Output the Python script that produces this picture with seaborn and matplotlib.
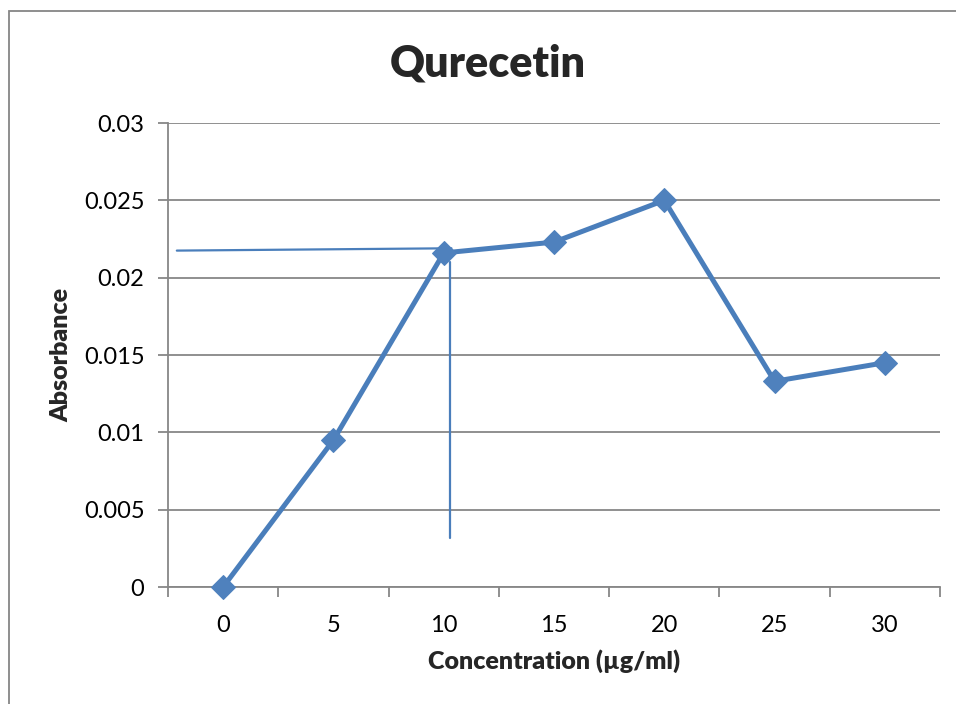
import matplotlib
matplotlib.use("Agg")
import matplotlib.pyplot as plt
import seaborn as sns
import numpy as np
import pandas as pd
from matplotlib.patches import Rectangle

# Data
concentrations = ["0", "5", "10", "15", "20", "25", "30"]
absorbance = [0.0, 0.0095, 0.0216, 0.0223, 0.0250, 0.0133, 0.0145]
y_ticks = [0, 0.005, 0.01, 0.015, 0.02, 0.025, 0.03]
y_tick_labels = ["0", "0.005", "0.01", "0.015", "0.02", "0.025", "0.03"]
# hand-drawn guide lines (category position, absorbance)
guide_h_x = [-0.42, 2.07]
guide_h_y = [0.02175, 0.0219]
guide_v_x = [2.06, 2.06]
guide_v_y = [0.0210, 0.0032]

sns.set_theme(style="white")
plt.rcParams['font.family'] = ['Lato', 'DejaVu Sans']

W, H = 956, 704
fig = plt.figure(figsize=(W / 100, H / 100), dpi=100)
ax = fig.add_axes([168 / W, (H - 587) / H, (940 - 168) / W, (587 - 123) / H])

df = pd.DataFrame({"pos": np.arange(len(concentrations)), "abs": absorbance})
blue = "#4A7EBB"
sns.lineplot(data=df, x="pos", y="abs", ax=ax, color=blue, linewidth=3.6,
             marker="D", markersize=12, markerfacecolor="#4F81BD",
             markeredgecolor="#4F81BD", zorder=5, clip_on=False)

ax.plot(guide_h_x, guide_h_y, color=blue, linewidth=1.6, zorder=4, clip_on=False)
ax.plot(guide_v_x, guide_v_y, color=blue, linewidth=1.6, zorder=4, clip_on=False)

ax.set_xlim(-0.5, len(concentrations) - 0.5)
ax.set_ylim(0, 0.03)
ax.set_yticks(y_ticks)
ax.set_yticklabels(y_tick_labels)
ax.set_xticks(np.arange(len(concentrations)))
ax.set_xticklabels(concentrations)
ax.set_xticks(np.arange(len(concentrations) + 1) - 0.5, minor=True)

grid_c = "#878787"
ax.yaxis.grid(True, color=grid_c, linewidth=1.3)
ax.xaxis.grid(False)
for s in ["top", "right"]:
    ax.spines[s].set_visible(False)
for s in ["left", "bottom"]:
    ax.spines[s].set_color(grid_c)
    ax.spines[s].set_linewidth(1.3)

ax.tick_params(axis="y", which="major", length=7, width=1.3, color=grid_c,
               direction="out", left=True, labelsize=17, pad=10, labelcolor="black")
ax.tick_params(axis="x", which="major", length=0, labelsize=17, pad=20, labelcolor="black")
ax.tick_params(axis="x", which="minor", length=7, width=1.3, color=grid_c,
               direction="out", bottom=True)

ax.set_xlabel("Concentration (µg/ml)", fontsize=18, fontweight="heavy", labelpad=10)
ax.set_ylabel("Absorbance", fontsize=18, fontweight="heavy", labelpad=8)
fig.text(488 / W, 1 - 64 / H, "Qurecetin", ha="center", va="center",
         fontsize=31, fontweight="heavy")

fig.patches.append(Rectangle((9 / W, -0.1), 1.2, 1 - 11 / H + 0.1,
                             transform=fig.transFigure, fill=False,
                             edgecolor="#868686", linewidth=1.3))

fig.savefig("out.png", dpi=100, facecolor="white")
